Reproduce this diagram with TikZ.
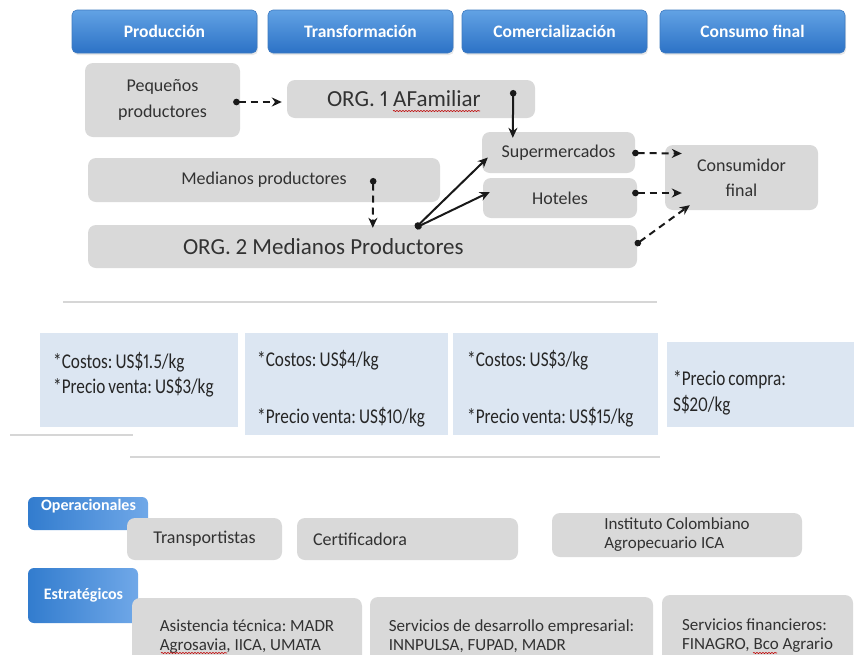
\documentclass[tikz,border=0pt]{standalone}
\usepackage{fontspec}
\setmainfont{Carlito}
\newfontfamily\narrowcal[FakeStretch=0.82,WordSpace=0.8,Numbers=Proportional]{Carlito}
\newfontfamily\tightcal[Numbers=Proportional]{Carlito}
\usetikzlibrary{arrows.meta,calc,shadows,decorations.pathmorphing}
\frenchspacing

\definecolor{hdrtop}{RGB}{98,162,228}
\definecolor{hdrbot}{RGB}{44,114,198}
\definecolor{hdrline}{RGB}{62,122,192}
\definecolor{boxgray}{RGB}{217,217,217}
\definecolor{boxtext}{RGB}{50,50,50}
\definecolor{pricebg}{RGB}{220,230,242}
\definecolor{sepline}{RGB}{214,214,214}
\definecolor{sidedark}{RGB}{50,124,206}
\definecolor{sidelight}{RGB}{112,168,232}

\tikzset{
  stage/.style={rounded corners=5pt, top color=hdrtop, bottom color=hdrbot,
    draw=hdrline, line width=0.6pt, text=white,
    font=\fontsize{17.5}{20}\selectfont\bfseries,
    minimum height=43pt, minimum width=185pt, inner sep=0pt,
    drop shadow={opacity=0.18, shadow xshift=1pt, shadow yshift=-2pt}},
  % the font's own interword space, also in aligned node text
  actor/.style={rounded corners=8pt, fill=boxgray, text=boxtext,
    font=\fontsize{18}{23}\selectfont, inner sep=0pt, align=center,
    execute at begin node={\spaceskip=0pt\xspaceskip=0pt}},
  orglabel/.style={actor, font=\tightcal\fontsize{23}{26}\selectfont,
    align=left},
  price/.style={fill=pricebg, inner sep=0pt},
  pricetxt/.style={anchor=west, inner sep=0pt, text=black!85,
    font=\narrowcal\fontsize{21}{24}\selectfont},
  side/.style={rounded corners=6pt, left color=sidedark, right color=sidelight,
    inner sep=0pt},
  sidetxt/.style={text=white, font=\fontsize{16}{18}\selectfont\bfseries,
    inner sep=0pt},
  support/.style={actor, font=\fontsize{17}{19}\selectfont, align=left},
  flow/.style={line width=2pt, draw=black!90,
    {Circle[length=6.5pt]}-{Stealth[length=10pt,width=9pt]}},
  flowd/.style={flow, dash pattern=on 7pt off 5pt},
  sep/.style={draw=sepline, line width=1.5pt},
  typo/.style={draw=red!75!black, line width=0.6pt, decorate,
    decoration={snake, amplitude=0.6pt, segment length=3pt}},
}

\begin{document}
\begin{tikzpicture}[x=1pt,y=-1pt]
\clip (0,0) rectangle (854,654);
\fill[white] (0,0) rectangle (854,654);

% chain stages
\node[stage] (h1) at (164.5,31.5) {Producción};
\node[stage] (h2) at (360.5,31.5) {Transformación};
\node[stage] (h3) at (554.5,31.5) {Comercialización};
\node[stage] (h4) at (752.5,31.5) {Consumo final};

% actors
\node[actor, font=\fontsize{18}{26}\selectfont, minimum width=155pt,
  minimum height=74pt] (peq) at (162.5,100) {Pequeños\\productores};
\node[orglabel, text width=168pt, inner xsep=40pt, minimum height=38pt]
  (org1) at (411,99) {ORG. 1 AFamiliar};
\node[actor, minimum width=153pt, minimum height=41pt] (super) at (558.5,152.5)
  {Supermercados};
\node[actor, minimum width=154pt, minimum height=40pt] (hotel) at (560,198)
  {Hoteles};
\node[actor, font=\fontsize{18}{25}\selectfont, minimum width=153pt,
  minimum height=65pt] (cons) at (741.5,177.5) {Consumidor\\final};
\node[actor, minimum width=352pt, minimum height=44pt] (med) at (264,180)
  {Medianos productores};
\node[orglabel, text width=359pt, inner xsep=95pt, minimum height=43pt]
  (org2) at (362.5,246.5) {ORG. 2 Medianos Productores};

% flows
\draw[flowd] ($(peq.east)+(-7,2)$) -- ($(org1.west)+(-5,3)$);
\draw[flow] ($(org1.east)+(-22,-9)$) -- ($(super.north west)+(31,6)$);
\draw[flowd] ($(med.east)+(-67,-2)$) -- ($(org2.north west)+(285,3)$);
\draw[flow] ($(org2.north)+(53,3)$) -- ($(super.west)+(6,5)$);
\draw[flow] ($(org2.north)+(53,3)$) -- ($(hotel.west)+(7,-6)$);
\draw[flowd] ($(super.east)+(-3,0.5)$) -- ($(cons.west)+(17,-24)$);
\draw[flowd] ($(hotel.east)+(-5,-5)$) -- ($(cons.west)+(17,15.5)$);
\draw[flowd] ($(org2.east)+(-2,-1.5)$) -- ($(cons.south west)+(25,-5)$);

% separators
\draw[sep] (63,302) -- (657,302);
\draw[sep] (10,435) -- (133,435);
\draw[sep] (130,457) -- (660,457);

% costs and prices
\node[price, minimum width=198pt, minimum height=94pt] (p1) at (139,380) {};
\node[price, minimum width=203pt, minimum height=102pt] (p2) at (346.5,384) {};
\node[price, minimum width=205pt, minimum height=102pt] (p3) at (555.5,384) {};
\node[price, minimum width=203pt, minimum height=85pt] (p4) at (768.5,384.5) {};
\node[pricetxt] (c1) at (53,362) {*Costos: US\$1.5/kg};
\node[pricetxt] (v1) at (53,387) {*Precio venta: US\$3/kg};
\node[pricetxt] (c2) at (257,360) {*Costos: US\$4/kg};
\node[pricetxt] (v2) at (257,417) {*Precio venta: US\$10/kg};
\node[pricetxt] (c3) at (467,360) {*Costos: US\$3/kg};
\node[pricetxt] (v3) at (467,417) {*Precio venta: US\$15/kg};
\node[pricetxt] (c4) at (673,380) {*Precio compra:};
\node[pricetxt] (v4) at (673,405) {S\$20/kg};

% support services
\node[side, minimum width=120pt, minimum height=33pt] (ope) at (88,513.5) {};
\node[sidetxt] (opet) at (88.5,506) {Operacionales};
\node[side, minimum width=110pt, minimum height=55pt] (est) at (83,595.5) {};
\node[sidetxt] (estt) at (83.5,595) {Estratégicos};

\node[actor, minimum width=155pt, minimum height=42pt] (trans) at (204.5,539)
  {Transportistas};
\node[actor, text width=189pt, inner xsep=16pt, minimum height=42pt,
  align=left] (cert) at (407.5,539) {Certificadora};
\node[support, minimum width=250pt, minimum height=44pt] (ica) at (677,535)
  {Instituto Colombiano\\Agropecuario ICA};
\node[support, minimum width=230pt, minimum height=78pt] (asis) at (247,637)
  {Asistencia técnica: MADR\\Agrosavia, IICA, UMATA};
\node[support, minimum width=283pt, minimum height=79pt] (serv) at (511.5,636.5)
  {Servicios de desarrollo empresarial:\\INNPULSA, FUPAD, MADR};
\node[support, minimum width=191pt, minimum height=81pt] (fin) at (757.5,635.5)
  {Servicios financieros:\\FINAGRO, Bco Agrario};

% spell-check marks
\draw[typo] (393,111) -- (480,111);
\draw[typo] (161,653) -- (227,653);
\draw[typo] (753,653) -- (777,653);
\end{tikzpicture}
\end{document}
